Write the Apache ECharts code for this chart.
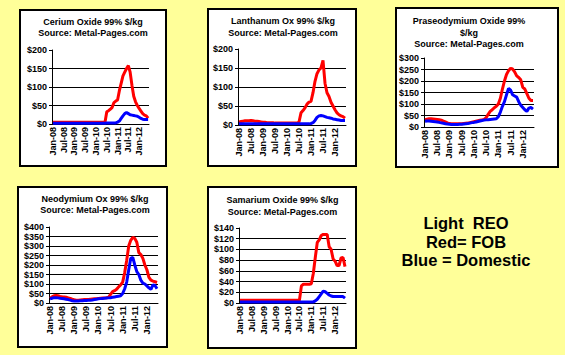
<!DOCTYPE html>
<html><head><meta charset="utf-8">
<script src="https://cdn.jsdelivr.net/npm/echarts@6/dist/echarts.min.js"></script>
<style>html,body{margin:0;padding:0;background:#FFFF99;}#c{width:565px;height:355px;}</style>
</head><body><div id="c"></div>
<script>
const months = ['Jan-08','Feb-08','Mar-08','Apr-08','May-08','Jun-08','Jul-08','Aug-08','Sep-08','Oct-08','Nov-08','Dec-08',
'Jan-09','Feb-09','Mar-09','Apr-09','May-09','Jun-09','Jul-09','Aug-09','Sep-09','Oct-09','Nov-09','Dec-09',
'Jan-10','Feb-10','Mar-10','Apr-10','May-10','Jun-10','Jul-10','Aug-10','Sep-10','Oct-10','Nov-10','Dec-10',
'Jan-11','Feb-11','Mar-11','Apr-11','May-11','Jun-11','Jul-11','Aug-11','Sep-11','Oct-11','Nov-11','Dec-11',
'Jan-12','Feb-12','Mar-12','Apr-12','May-12','Jun-12'];

const ceriumFOB = [5,5,5,5,5,5,5,5,5,5,5,5, 5,5,5,5,5,5,5,5,5,5,5,5, 5,5,5,5,5,5,33,36,40,45,58,62,
 65,90,110,130,140,150,158,140,105,75,60,50, 42,35,28,24,22,16];
const ceriumDom = [2,2,2,2,2,2,2,2,2,2,2,2, 2,2,2,2,2,2,2,2,2,2,2,2, 2,2,2,2,2,2,3,3,3,3,3,3,
 5,8,15,22,28,31,28,25,24,23,22,21, 18,15,13,12,12,12];

const lanthanumFOB = [8,9,10,11,11,11,12,11,10,10,9,8, 7,7,6,6,6,6,5,5,5,5,5,5, 5,5,5,5,5,5,8,32,38,45,55,60,
 62,85,115,135,145,150,170,110,85,75,60,50, 40,32,27,24,22,18];
const lanthanumDom = [3,3,3,3,3,3,3,3,3,3,3,3, 3,3,3,3,3,3,3,3,3,3,3,3, 3,3,3,3,3,3,3,3,3,3,3,3,
 4,6,12,20,24,25,24,22,20,19,18,16, 15,14,13,12,12,12];

const praseoFOB = [32,34,36,36,35,34,33,32,30,26,22,18, 15,14,14,14,14,14,14,15,16,17,19,21,
 23,25,27,29,31,33,40,55,68,75,84,90, 100,125,165,200,228,245,255,252,240,222,215,205,
 172,165,145,125,115,115];
const praseoDom = [25,26,26,25,24,23,22,20,18,16,14,13, 12,11,11,11,11,12,12,13,14,15,17,19,
 20,22,24,26,28,30,31,32,33,34,35,36, 45,65,90,110,140,168,160,140,135,130,110,95,
 85,75,68,82,85,78];

const neoFOB = [25,32,38,40,38,35,33,32,30,27,24,20, 17,15,15,16,17,18,18,19,20,21,22,23,
 24,25,26,27,28,30,45,60,65,72,85,95, 110,160,225,300,330,345,340,320,265,255,235,200,
 175,135,120,115,112,108];
const neoDom = [22,25,28,28,27,25,24,22,20,18,15,12, 10,10,11,12,12,13,13,14,15,16,18,20,
 22,23,24,25,26,27,28,30,32,34,36,38, 50,75,110,175,235,240,200,165,150,120,105,100,
 90,80,72,95,92,75];

const samariumFOB = [5,5,5,5,5,5,5,5,5,5,5,5, 5,5,5,5,5,5,5,5,5,5,5,5, 5,5,5,5,5,5,5,32,35,35,35,35,
 36,55,85,113,118,126,128,128,128,105,100,82, 78,70,70,84,85,68];
const samariumDom = [2,2,2,2,2,2,2,2,2,2,2,2, 2,2,2,2,2,2,2,2,2,2,2,2, 2,2,2,2,2,2,2,2,2,2,2,2,
 2,2,4,7,12,17,22,21,18,15,13,12, 12,12,12,12,12,9];

const titles = [
  ['Cerium Oxide 99% $/kg','Source: Metal-Pages.com'],
  ['Lanthanum Ox 99% $/kg','Source: Metal-Pages.com'],
  ['Praseodymium Oxide 99%','$/kg','Source: Metal-Pages.com'],
  ['Neodymium Ox 99% $/kg','Source: Metal-Pages.com'],
  ['Samarium Oxide 99% $/kg','Source: Metal-Pages.com']
];
const yMax = [200,200,300,400,140];
const yStep = [50,50,50,50,20];
const legendLines = ['Light  REO','Red= FOB','Blue = Domestic'];

const panels = [
  {box:[20,10,146,156], grid:[52,50,97,74], tx:93, ty:[22,33]},
  {box:[208,9,148,157], grid:[238,49,108,76], tx:283, ty:[21,33]},
  {box:[396,8,162,159], grid:[424,58,110,69], tx:469, ty:[21,32.5,43.5]},
  {box:[18,187,149,160], grid:[49,227,109,76], tx:95, ty:[199,210]},
  {box:[208,187,148,161], grid:[239,228,107,75], tx:282.5, ty:[200,212]}
];
const fobData = [ceriumFOB, lanthanumFOB, praseoFOB, neoFOB, samariumFOB];
const domData = [ceriumDom, lanthanumDom, praseoDom, neoDom, samariumDom];

const FONT = 'Liberation Sans, Arial, sans-serif';
const grid = [], xAxis = [], yAxis = [], series = [], elements = [];
panels.forEach((p, k) => {
  elements.push({type:'rect', z:-10, shape:{x:p.box[0], y:p.box[1], width:p.box[2], height:p.box[3]},
    style:{fill:'#fff', stroke:'#000', lineWidth:2}});
  titles[k].forEach((t, j) => {
    elements.push({type:'text', z:5, x:p.tx, y:p.ty[j], style:{text:t, fill:'#000',
      font:'bold 9px ' + FONT, textAlign:'center', textVerticalAlign:'middle'}});
  });
  grid.push({left:p.grid[0], top:p.grid[1], width:p.grid[2], height:p.grid[3], containLabel:false});
  xAxis.push({type:'category', gridIndex:k, data:months, boundaryGap:true,
    axisLine:{show:true, lineStyle:{color:'#000', width:1}}, axisTick:{show:false},
    axisLabel:{rotate:90, interval:5, color:'#000', fontWeight:'bold', fontSize:9, fontFamily:FONT, margin:3},
    splitLine:{show:false}});
  yAxis.push({type:'value', gridIndex:k, min:0, max:yMax[k], interval:yStep[k],
    axisLine:{show:true, lineStyle:{color:'#000', width:1}},
    axisTick:{show:true, length:3, lineStyle:{color:'#000'}},
    axisLabel:{formatter:'${value}', color:'#000', fontWeight:'bold', fontSize:9, fontFamily:FONT, margin:5},
    splitLine:{show:true, showMaxLine:false, lineStyle:{color:'#000', width:1}}});
  series.push({type:'line', xAxisIndex:k, yAxisIndex:k, data:fobData[k], showSymbol:false, silent:true,
    lineStyle:{color:'#FF0000', width:3}, itemStyle:{color:'#FF0000'}, animation:false});
  series.push({type:'line', xAxisIndex:k, yAxisIndex:k, data:domData[k], showSymbol:false, silent:true,
    lineStyle:{color:'#0000FF', width:3}, itemStyle:{color:'#0000FF'}, animation:false});
});
legendLines.forEach((t, j) => {
  elements.push({type:'text', x:466, y:223 + j*18.5, style:{text:t, fill:'#000',
    font:'bold 16.5px ' + FONT, textAlign:'center', textVerticalAlign:'middle'}});
});

const chart = echarts.init(document.getElementById('c'), null, {renderer:'svg'});
chart.setOption({
  backgroundColor:'#FFFF99',
  animation:false,
  grid, xAxis, yAxis, series,
  graphic:{elements}
});
</script></body></html>
